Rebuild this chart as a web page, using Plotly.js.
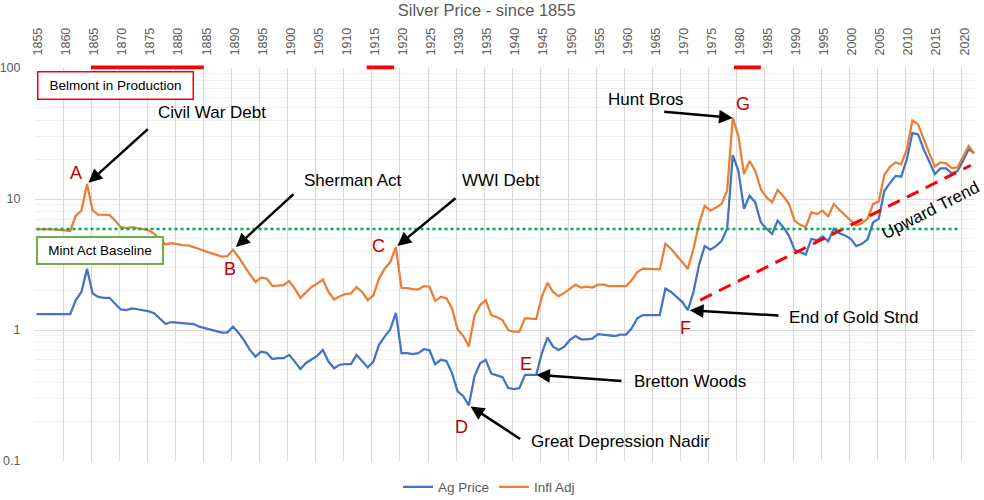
<!DOCTYPE html>
<html><head><meta charset="utf-8">
<script src="https://cdn.plot.ly/plotly-3.0.1.min.js"></script>
<style>html,body{margin:0;padding:0;background:#fff}#chart{width:984px;height:500px}</style>
</head><body><div id="chart"></div>
<script>
// ---------- DATA ----------
const startYear = 1855;
const agPrice = [
 1.32,1.32,1.32,1.32,1.32,1.32,1.32,1.69,1.95,2.94,          // 1855-1864
 1.90,1.79,1.76,1.76,1.59,1.435,1.42,1.46,1.44,1.42,         // 1865-1874
 1.39,1.34,1.23,1.11,1.15,1.14,1.14,1.12,1.11,1.06,          // 1875-1884
 1.03,1.00,0.97,0.955,0.96,1.06,0.95,0.83,0.705,0.627,       // 1885-1894
 0.684,0.67,0.60,0.61,0.61,0.646,0.574,0.503,0.56,0.592,     // 1895-1904
 0.635,0.705,0.574,0.51,0.542,0.55,0.55,0.646,0.574,0.518,   // 1905-1914
 0.574,0.77,0.89,1.01,1.35,0.665,0.665,0.654,0.665,0.713,    // 1915-1924
 0.70,0.549,0.592,0.58,0.469,0.34,0.312,0.266,0.442,0.558,   // 1925-1934
 0.592,0.464,0.45,0.437,0.361,0.354,0.36,0.455,0.455,0.455,  // 1935-1944
 0.665,0.874,0.747,0.705,0.747,0.84,0.90,0.85,0.85,0.86,     // 1945-1954
 0.93,0.92,0.90,0.90,0.92,0.92,1.03,1.23,1.30,1.30,          // 1955-1964
 1.30,1.30,2.07,1.95,1.79,1.64,1.42,1.95,3.15,4.37,          // 1965-1974
 4.10,4.37,4.77,5.92,21.6,16.4,8.4,10.6,9.42,6.64,           // 1975-1984
 5.92,5.42,6.84,6.09,5.26,4.10,3.93,3.76,4.97,4.82,          // 1985-1994
 5.17,4.77,5.92,5.48,5.26,4.97,4.37,4.55,4.91,6.64,          // 1995-2004
 7.05,11.56,13.2,15.0,14.8,20.1,32.0,31.1,24.0,19.2,         // 2005-2014
 15.5,17.1,17.1,15.7,16.3,19.5,24.0,22.3                     // 2015-2022
];
const inflAdj = [
 5.9,5.9,5.85,5.85,5.8,5.75,5.7,7.47,8.15,13.0,              // 1855-1864
 8.15,7.6,7.55,7.55,6.84,6.09,6.0,6.1,5.97,5.9,              // 1865-1874
 5.74,5.42,4.88,4.50,4.60,4.50,4.45,4.42,4.30,4.15,          // 1875-1884
 4.00,3.86,3.75,3.63,3.66,4.10,3.6,3.06,2.66,2.33,           // 1885-1894
 2.51,2.47,2.17,2.18,2.2,2.36,2.07,1.76,1.95,2.13,           // 1895-1904
 2.26,2.43,1.95,1.71,1.81,1.88,1.9,2.13,1.95,1.69,           // 1905-1914
 1.84,2.47,2.94,3.3,4.29,2.1,2.09,2.05,2.04,2.16,            // 1915-1924
 2.14,1.67,1.79,1.75,1.46,1.01,0.90,0.75,1.28,1.55,          // 1925-1934
 1.69,1.3,1.25,1.19,1.0,0.97,0.97,1.23,1.22,1.21,            // 1935-1944
 1.79,2.29,1.95,1.81,1.92,2.08,2.22,2.11,2.14,2.11,          // 1945-1954
 2.22,2.22,2.16,2.16,2.16,2.16,2.4,2.77,2.94,2.92,           // 1955-1964
 2.9,2.9,4.55,4.17,3.71,3.3,2.94,4.17,6.46,8.89,             // 1965-1974
 8.15,8.6,9.17,11.56,41.6,30.2,15.5,19.5,16.4,11.9,          // 1975-1984
 10.3,9.42,11.7,10.5,9.2,6.84,6.35,6.09,7.91,7.68,           // 1985-1994
 8.15,7.38,9.17,8.25,7.56,6.96,6.27,6.53,7.05,9.17,          // 1995-2004
 9.55,15.3,17.6,19.0,18.4,24.0,39.8,37.1,28.6,22.4,          // 2005-2014
 17.7,19.0,18.7,17.2,17.4,21.3,25.4,22.3                     // 2015-2022
];
const years = agPrice.map((_, i) => startYear + i);
const tickYears = [1855,1860,1865,1870,1875,1880,1885,1890,1895,1900,1905,1910,1915,1920,1925,1930,1935,1940,1945,1950,1955,1960,1965,1970,1975,1980,1985,1990,1995,2000,2005,2010,2015,2020];
const yTickValues = [0.1, 1, 10, 100];
const yTickLabels = ['0.1', '1', '10', '100'];
const mintBaselineYears = [1855, 2019.4];
const mintBaselineValues = [5.9, 5.9];
const trendYears = [1973.2, 2021.4];
const trendValues = [1.69, 18.1];
const productionPeriods = [[1864.7, 1884.8], [1913.8, 1918.7], [1979.2, 1984.0]];

// ---------- LAYOUT GEOMETRY ----------
const L = 35, R = 975, T = 68, B = 461, W = R - L, H = B - T;
const pxPerYear = 5.615, firstPointPx = 36.5;
const xRange = [startYear - (firstPointPx - L) / pxPerYear, startYear + (R - firstPointPx) / pxPerYear];
const yRangeLog = [-1, 2];
function paper(x, y) { return { x: (x - L) / W, y: (B - y) / H }; }
function yearToPx(yr) { return firstPointPx + (yr - startYear) * pxPerYear; }
function valToPx(v) { return B - (Math.log10(v) - yRangeLog[0]) / (yRangeLog[1] - yRangeLog[0]) * H; }

const FONT = 'Liberation Sans, Arial, sans-serif';
const GRAY = '#595959';
const DARKRED = '#C00000';

const minorVals = [];
[0.1, 1, 10].forEach(d => { for (let k = 2; k <= 9; k++) minorVals.push(+(d * k).toFixed(3)); });

// ---------- TRACES ----------
const traces = [
  { x: years, y: agPrice, name: 'Ag Price', type: 'scatter', mode: 'lines',
    line: { color: '#4472C4', width: 2.25 }, xaxis: 'x', yaxis: 'y' },
  { x: years, y: inflAdj, name: 'Infl Adj', type: 'scatter', mode: 'lines',
    line: { color: '#ED7D31', width: 2.25 }, xaxis: 'x', yaxis: 'y' },
  { x: mintBaselineYears, y: mintBaselineValues, type: 'scatter', mode: 'lines', showlegend: false,
    line: { color: '#00B050', width: 2.5, dash: 'dot' }, xaxis: 'x2', yaxis: 'y', hoverinfo: 'skip' },
  { x: trendYears, y: trendValues, type: 'scatter', mode: 'lines', showlegend: false,
    line: { color: '#FF0000', width: 3, dash: '13px,8px' }, xaxis: 'x', yaxis: 'y', hoverinfo: 'skip' }
];

// ---------- ANNOTATIONS ----------
const annotations = [];
function textAt(text, px, py, size, color, extra) {
  const p = paper(px, py);
  annotations.push(Object.assign({ text: text, x: p.x, y: p.y, xref: 'paper', yref: 'paper',
    xanchor: 'center', yanchor: 'middle', showarrow: false,
    font: { family: FONT, size: size, color: color } }, extra || {}));
}
// events: arrow head on a data point, tail in pixels, letter label
const events = [
  { letter: 'A', year: 1864, series: inflAdj, letterPos: [75.5, 172.5], tail: [149.3, 127.7], standoff: 2 },
  { letter: 'B', year: 1890, series: inflAdj, letterPos: [230, 268.7], tail: [295, 192.7], standoff: 4 },
  { letter: 'C', year: 1919, series: inflAdj, letterPos: [378.3, 246], tail: [457, 197], standoff: 2 },
  { letter: 'D', year: 1932, series: agPrice, letterPos: [461, 426.7], tail: [521.7, 440], standoff: 2 },
  { letter: 'E', year: 1944, series: agPrice, letterPos: [526.3, 363.7], tail: [623, 381], standoff: 0 },
  { letter: 'F', year: 1971, series: agPrice, letterPos: [685, 328], tail: [780, 315.7], standoff: 2 },
  { letter: 'G', year: 1979, series: inflAdj, letterPos: [743, 104], tail: [662.7, 111.7], standoff: 0 }
];
events.forEach(ev => {
  const v = ev.series[ev.year - startYear];
  const hx = yearToPx(ev.year), hy = valToPx(v);
  annotations.push({ x: ev.year, y: Math.log10(v), xref: 'x', yref: 'y', text: '',
    showarrow: true, arrowhead: 2, arrowsize: 1.1, arrowwidth: 2.5, arrowcolor: '#000',
    standoff: ev.standoff, ax: ev.tail[0] - hx, ay: ev.tail[1] - hy });
  textAt(ev.letter, ev.letterPos[0], ev.letterPos[1], 18, DARKRED);
});
textAt('Civil War Debt', 211.7, 112.3, 17, '#000');
textAt('Sherman Act', 352.5, 180, 17, '#000');
textAt('WWI Debt', 500.5, 180, 17, '#000');
textAt('Hunt Bros', 646, 99, 17, '#000');
textAt('Bretton Woods', 689.5, 381, 17, '#000');
textAt('End of Gold Stnd', 853.5, 317, 17, '#000');
textAt('Great Depression Nadir', 620.3, 441.5, 17, '#000');
textAt('Upward Trend', 930, 210, 17, '#000', { textangle: -27 });
textAt('Belmont in Production', 115.3, 85, 13.5, '#000',
  { width: 150, height: 22, borderpad: 2, borderwidth: 1.5, bordercolor: '#FF0000', bgcolor: '#FFFFFF' });
textAt('Mint Act Baseline', 100, 250.2, 13.5, '#000',
  { width: 120, height: 21, borderpad: 2, borderwidth: 2, bordercolor: '#70AD47', bgcolor: '#FFFFFF' });

// production bars at top edge
const shapes = productionPeriods.map(p => ({
  type: 'rect', xref: 'x', yref: 'paper', x0: p[0], x1: p[1],
  y0: (B - 69.3) / H, y1: (B - 65.5) / H, fillcolor: '#FF0000', line: { width: 0 }, layer: 'above'
}));

const layout = {
  width: 984, height: 500,
  margin: { l: L, r: 984 - R, t: T, b: 500 - B, autoexpand: false },
  paper_bgcolor: '#fff', plot_bgcolor: '#fff',
  font: { family: FONT, color: GRAY },
  title: { text: 'Silver Price - since 1855', x: 486.7 / 984, xref: 'container', xanchor: 'center',
    y: 1 - 10 / 500, yref: 'container', yanchor: 'middle', font: { family: FONT, size: 16.5, color: GRAY } },
  xaxis: { range: xRange, tickmode: 'array', tickvals: tickYears.map(y => y - 0.27),
    showticklabels: false, ticks: '', showgrid: true, gridcolor: '#d9d9d9', gridwidth: 1,
    zeroline: false, showline: false, fixedrange: true },
  xaxis2: { range: xRange, overlaying: 'x', side: 'top', anchor: 'y', tickmode: 'array',
    tickvals: tickYears.map(y => y + 0.27), ticktext: tickYears.map(String), tickangle: -90,
    ticks: 'outside', ticklen: 9, tickcolor: 'rgba(0,0,0,0)', showgrid: false, zeroline: false,
    showline: false, tickfont: { family: FONT, size: 12.5, color: GRAY } },
  yaxis: { type: 'log', range: yRangeLog, tickmode: 'array', tickvals: yTickValues, ticktext: yTickLabels,
    ticks: 'outside', ticklen: 11, tickcolor: 'rgba(0,0,0,0)', showgrid: true, gridcolor: '#d9d9d9',
    gridwidth: 1, zeroline: false, showline: false,
    tickfont: { family: FONT, size: 12.5, color: GRAY },
    minor: { tickmode: 'array', tickvals: minorVals, showgrid: true, gridcolor: '#f0f0f0', gridwidth: 1, ticks: '' } },
  legend: { orientation: 'h', x: (489 - L) / W, xanchor: 'center', y: (B - 487) / H, yanchor: 'middle',
    font: { family: FONT, size: 13.5, color: GRAY }, bgcolor: 'rgba(0,0,0,0)' },
  showlegend: true,
  annotations: annotations,
  shapes: shapes
};

Plotly.newPlot('chart', traces, layout, { displayModeBar: false, staticPlot: true });
</script>
</body></html>
